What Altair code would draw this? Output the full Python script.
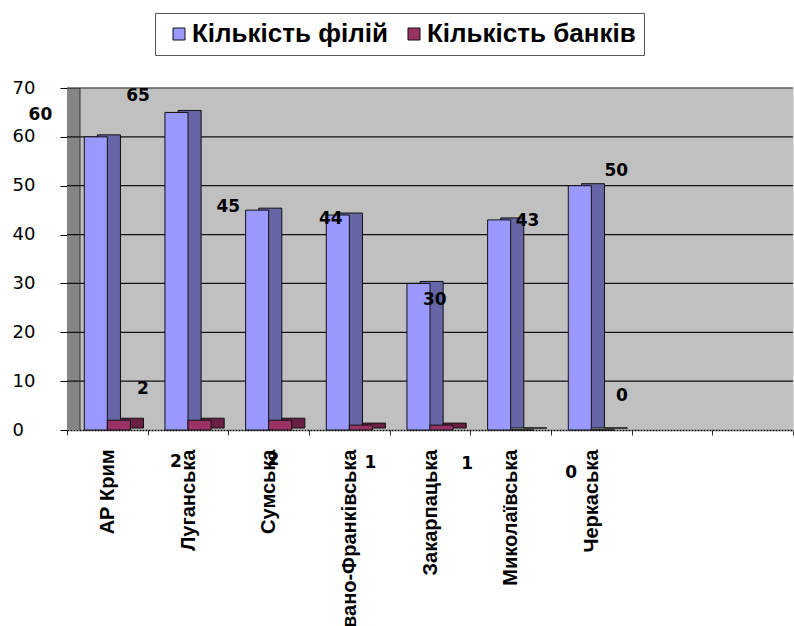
import altair as alt
import pandas as pd

# ---- data ----
regions = ["АР Крим", "Луганська", "Сумська", "Івано-Франківська",
           "Закарпацька", "Миколаївська", "Черкаська"]
empty_slots = ["_1", "_2"]
branches = [60, 65, 45, 44, 30, 43, 50]      # Кількість філій
banks = [2, 2, 2, 1, 1, 0, 0]                # Кількість банків
series_names = ["Кількість філій", "Кількість банків"]
y_ticks = [0, 10, 20, 30, 40, 50, 60, 70]
grid_values = [10, 20, 30, 40, 50, 60, 70]

# where the value labels sit in the picture (category-slot units, axis units)
branch_label_x = [-0.33, 0.88, 2.0, 3.27, 4.56, 5.71, 6.81]
branch_label_y = [64.5, 68.4, 45.6, 43.2, 26.6, 42.8, 53.0]
bank_label_x = [0.94, 1.35, 2.56, 3.76, 4.96, 6.25, 6.88]
bank_label_y = [8.4, -6.5, -6.1, -6.75, -6.96, -8.8, 7.0]

front_colors = ["#9999FF", "#993366"]
side_colors = ["#6666A6", "#6A1F45"]

rows = []
for r, f, b in zip(regions, branches, banks):
    rows.append({"region": r, "series": series_names[0], "value": f, "side": side_colors[0]})
    rows.append({"region": r, "series": series_names[1], "value": b, "side": side_colors[1]})
bars_df = pd.DataFrame(rows)

labels_df = pd.DataFrame({
    "lx": branch_label_x + bank_label_x,
    "ly": branch_label_y + bank_label_y,
    "txt": [str(v) for v in branches] + [str(v) for v in banks],
})

y_scale = alt.Scale(domain=[0, 70], nice=False, zero=True)
x_scale = alt.Scale(domain=regions + empty_slots, paddingInner=0, paddingOuter=0)

y_axis = alt.Axis(title=None, values=y_ticks, labelFont="DejaVu Sans",
                  labelFontSize=18, labelColor="black", labelAlign="left",
                  labelBaseline="middle", labelPadding=48, tickSize=7,
                  tickColor="black", domainColor="black", grid=False)
x_axis = alt.Axis(title=None, labelAngle=-90, labelAlign="right",
                  labelBaseline="middle", labelFont="Liberation Sans",
                  labelFontWeight="bold", labelFontSize=20, labelColor="black",
                  labelPadding=14, tickBand="extent", tickSize=5,
                  tickColor="#333333", domainColor="black", domainDash=[2, 1],
                  domainWidth=1.5, labelLimit=400, labelOverlap=False,
                  labelExpr="indexof(datum.label, '_') == 0 ? '' : datum.label")

# left 3-D wall (a wide rule spanning the y range)
wall = alt.Chart(pd.DataFrame({"a": [0]})).mark_rule(
    color="#858585", strokeWidth=13, strokeCap="butt"
).encode(x=alt.value(6.5),
         y=alt.Y(datum=70, scale=y_scale, axis=y_axis), y2=alt.Y2(datum=0))
wall_edge = alt.Chart(pd.DataFrame({"a": [0]})).mark_rule(
    color="#333333", strokeWidth=1
).encode(x=alt.value(13),
         y=alt.Y(datum=70, scale=y_scale, axis=y_axis), y2=alt.Y2(datum=0))

grid = alt.Chart(pd.DataFrame({"value": grid_values})).mark_rule(
    color="#111111", strokeWidth=1.2
).encode(y=alt.Y("value:Q", scale=y_scale, axis=y_axis))

side = alt.Chart(bars_df).mark_bar(stroke="#111111", strokeWidth=1, yOffset=-2).encode(
    x=alt.X("region:N", scale=x_scale, sort=None, axis=x_axis),
    xOffset=alt.XOffset("series:N", sort=series_names,
                        scale=alt.Scale(domain=series_names, paddingInner=0,
                                        paddingOuter=0.75, align=0.88)),
    y=alt.Y("value:Q", scale=y_scale, axis=y_axis),
    color=alt.Color("side:N", scale=None),
)

front = alt.Chart(bars_df).mark_bar(stroke="#111111", strokeWidth=1).encode(
    x=alt.X("region:N", scale=x_scale, sort=None, axis=x_axis),
    xOffset=alt.XOffset("series:N", sort=series_names,
                        scale=alt.Scale(domain=series_names, paddingInner=0,
                                        paddingOuter=0.75, align=0.5)),
    y=alt.Y("value:Q", scale=y_scale, axis=y_axis),
    color=alt.Color("series:N", title=None,
                    scale=alt.Scale(domain=series_names, range=front_colors),
                    legend=alt.Legend(orient="none", legendX=88, legendY=-75,
                                      direction="horizontal", symbolType="square",
                                      symbolSize=144, symbolStrokeColor="black",
                                      symbolStrokeWidth=1, labelFont="Liberation Sans",
                                      labelFontSize=26, labelFontWeight="bold",
                                      labelColor="black", labelLimit=400,
                                      strokeColor="#555555", fillColor="white",
                                      padding=8, symbolOffset=3, columnPadding=10,
                                      labelOffset=0)),
)

bars = alt.layer(wall, wall_edge, grid, side, front).resolve_scale(xOffset="independent")

labels = alt.Chart(labels_df).mark_text(
    font="DejaVu Sans", fontWeight="bold", fontSize=17, color="black",
    align="center", baseline="middle"
).encode(
    x=alt.X("lx:Q", scale=alt.Scale(domain=[0, 9], nice=False, zero=False), axis=None),
    y=alt.Y("ly:Q", scale=y_scale, axis=y_axis),
    text="txt:N",
)

chart = alt.layer(bars, labels).resolve_scale(x="independent").properties(
    width=726, height=342,
    autosize=alt.AutoSizeParams(type="none"),
    padding={"left": 67, "top": 88, "right": 1, "bottom": 196},
    background="white",
).configure_view(fill="#C0C0C0", stroke="transparent")

chart.save("out.html", embed_options={"renderer": "svg", "actions": False})
